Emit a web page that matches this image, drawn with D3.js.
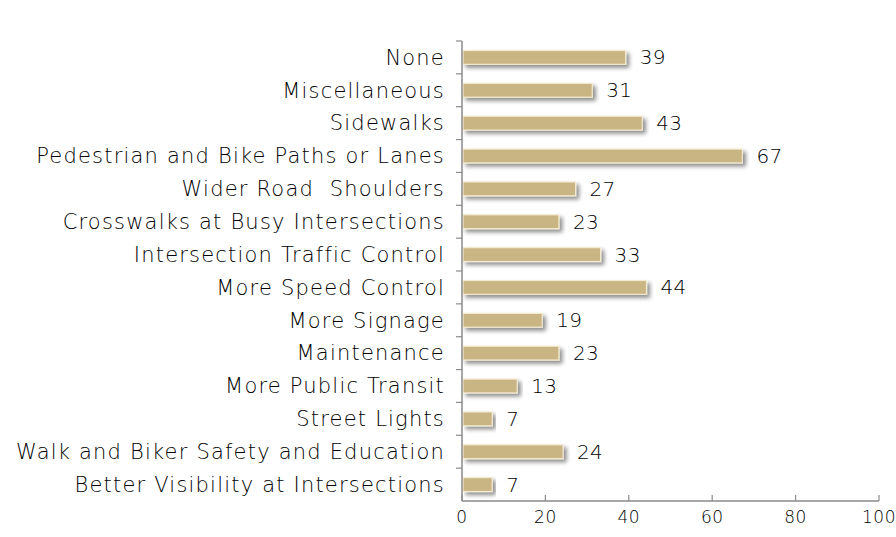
<!DOCTYPE html>
<html>
<head>
<meta charset="utf-8">
<script src="https://cdn.jsdelivr.net/npm/d3@7"></script>
<style>
  html, body { margin: 0; padding: 0; background: #ffffff; }
  svg text { font-family: "DejaVu Sans", "Lato", sans-serif; font-weight: 200; fill: #000000; }
</style>
</head>
<body>
<svg id="chart" width="896" height="537"></svg>
<script>
const categories = [
  "None",
  "Miscellaneous",
  "Sidewalks",
  "Pedestrian and Bike Paths or Lanes",
  "Wider Road  Shoulders",
  "Crosswalks at Busy Intersections",
  "Intersection Traffic Control",
  "More Speed Control",
  "More Signage",
  "Maintenance",
  "More Public Transit",
  "Street Lights",
  "Walk and Biker Safety and Education",
  "Better Visibility at Intersections"
];
const values = [39, 31, 43, 67, 27, 23, 33, 44, 19, 23, 13, 7, 24, 7];
const xTicks = [0, 20, 40, 60, 80, 100];

const svg = d3.select("#chart");
const margin = { left: 462, right: 17, top: 41, bottom: 36 };
const W = 896, H = 537;

const x = d3.scaleLinear().domain([0, 100]).range([margin.left, W - margin.right]);
const y = d3.scaleBand().domain(categories).range([margin.top, H - margin.bottom]).paddingInner(0.58).paddingOuter(0.29);
const yb = d3.scaleBand().domain(categories).range([margin.top, H - margin.bottom]);

const defs = svg.append("defs");
const f = defs.append("filter").attr("id", "shadow").attr("x", "-5%").attr("y", "-40%").attr("width", "115%").attr("height", "220%");
f.append("feGaussianBlur").attr("in", "SourceAlpha").attr("stdDeviation", 2).attr("result", "b");
f.append("feOffset").attr("in", "b").attr("dx", 3).attr("dy", 3).attr("result", "o");
f.append("feComponentTransfer").attr("in", "o").attr("result", "s")
  .append("feFuncA").attr("type", "linear").attr("slope", 0.45);
const m = f.append("feMerge");
m.append("feMergeNode").attr("in", "s");
m.append("feMergeNode").attr("in", "SourceGraphic");

// bars
const bars = svg.append("g").selectAll("g").data(categories).join("g");
bars.append("rect")
  .attr("x", x(0) + 1)
  .attr("y", d => y(d))
  .attr("width", (d, i) => x(values[i]) - x(0))
  .attr("height", y.bandwidth())
  .attr("fill", "#c9b483")
  .attr("stroke", "#f3ead0")
  .attr("stroke-width", 1.2)
  .attr("filter", "url(#shadow)");

// value labels
bars.append("text")
  .attr("x", (d, i) => x(values[i]) + 15)
  .attr("y", d => y(d) + y.bandwidth() / 2)
  .attr("dy", "0.35em")
  .style("font-size", "20px")
  .style("letter-spacing", "0.3px")
  .text((d, i) => values[i]);

// category axis
const yAxis = svg.append("g").attr("transform", `translate(${x(0)},0)`);
yAxis.append("line").attr("x1", 0).attr("x2", 0).attr("y1", margin.top).attr("y2", H - margin.bottom)
  .attr("stroke", "#8a8a8a").attr("stroke-width", 1.5);
yAxis.selectAll("line.tick").data(categories).join("line").attr("class", "tick")
  .attr("x1", -6).attr("x2", 0)
  .attr("y1", d => yb(d)).attr("y2", d => yb(d))
  .attr("stroke", "#8a8a8a").attr("stroke-width", 1.2);
yAxis.selectAll("text").data(categories).join("text")
  .attr("x", -17)
  .attr("y", d => yb(d) + yb.bandwidth() / 2)
  .attr("dy", "0.35em")
  .attr("text-anchor", "end")
  .style("font-size", "21px")
  .style("letter-spacing", "1.2px")
  .style("white-space", "pre")
  .text(d => d);

// value axis
const xAxis = svg.append("g").attr("transform", `translate(0,${H - margin.bottom})`);
xAxis.append("line").attr("x1", x(0)).attr("x2", x(100)).attr("stroke", "#8a8a8a").attr("stroke-width", 1.5);
xAxis.selectAll("line.tick").data(xTicks).join("line").attr("class", "tick")
  .attr("x1", d => x(d)).attr("x2", d => x(d)).attr("y1", -6).attr("y2", 0)
  .attr("stroke", "#8a8a8a").attr("stroke-width", 1.2);
xAxis.selectAll("text").data(xTicks).join("text")
  .attr("x", d => x(d)).attr("y", 22)
  .attr("text-anchor", "middle")
  .style("font-size", "17px")
  .style("letter-spacing", "0.5px")
  .text(d => d);
</script>
</body>
</html>
